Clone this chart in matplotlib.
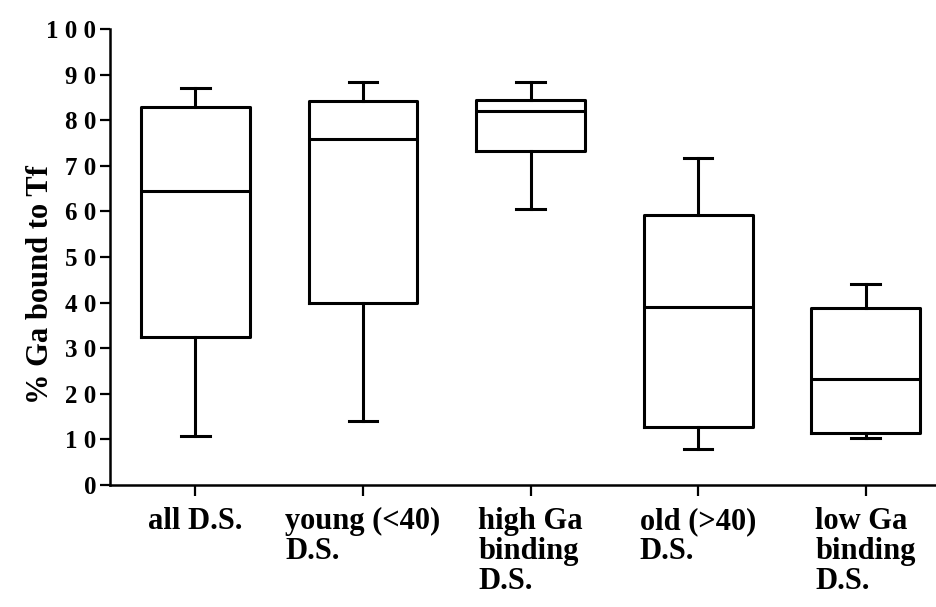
import matplotlib
matplotlib.use("Agg")
import matplotlib.pyplot as plt

# ---------- data ----------
groups = ["all D.S.", "young (<40)\nD.S.", "high Ga\nbinding\nD.S.",
          "old (>40)\nD.S.", "low Ga\nbinding\nD.S."]
whis_lo = [10.8, 14.0, 60.5, 8.0, 10.3]
q1 = [32.5, 40.0, 73.3, 12.8, 11.5]
median = [64.5, 76.0, 82.0, 39.0, 23.3]
q3 = [83.0, 84.3, 84.5, 59.3, 38.8]
whis_hi = [87.0, 88.5, 88.3, 71.8, 44.0]
yticks = [0, 10, 20, 30, 40, 50, 60, 70, 80, 90, 100]

plt.rcParams["font.family"] = ["Liberation Serif", "DejaVu Serif"]
plt.rcParams["font.weight"] = "bold"

stats = [dict(label=g, whislo=lo, q1=a, med=m, q3=b, whishi=hi)
         for g, lo, a, m, b, hi in zip(groups, whis_lo, q1, median, q3, whis_hi)]

fig = plt.figure(figsize=(9.36, 6.07), dpi=100)
ax = fig.add_axes([0.1175, 0.201, 0.8825, 0.751])

lw = 2.2
ax.bxp(stats, positions=range(1, 6), widths=0.65, capwidths=0.17,
       showfliers=False, patch_artist=False,
       boxprops=dict(color="black", linewidth=lw),
       medianprops=dict(color="black", linewidth=lw),
       whiskerprops=dict(color="black", linewidth=lw),
       capprops=dict(color="black", linewidth=lw))

ax.set_xlim(0.49, 5.42)
ax.set_ylim(0, 100)
ax.spines["top"].set_visible(False)
ax.spines["right"].set_visible(False)
ax.spines["left"].set_linewidth(1.8)
ax.spines["bottom"].set_linewidth(1.8)

# spaced digits like the original typesetting
ax.set_yticks(yticks, [" ".join(str(v)) for v in yticks], fontsize=18, fontweight="bold")
ax.set_xticks(range(1, 6), groups, fontsize=22, fontweight="bold",
              multialignment="left", linespacing=1.05)
ax.tick_params(axis="y", direction="out", length=7, width=1.6, pad=3)
ax.tick_params(axis="x", direction="out", length=8, width=1.6, pad=8)

ax.set_ylabel("% Ga bound to Tf", fontsize=22, fontweight="bold")
ax.yaxis.set_label_coords(-0.066, 0.44)

fig.savefig("out.png", dpi=100)
